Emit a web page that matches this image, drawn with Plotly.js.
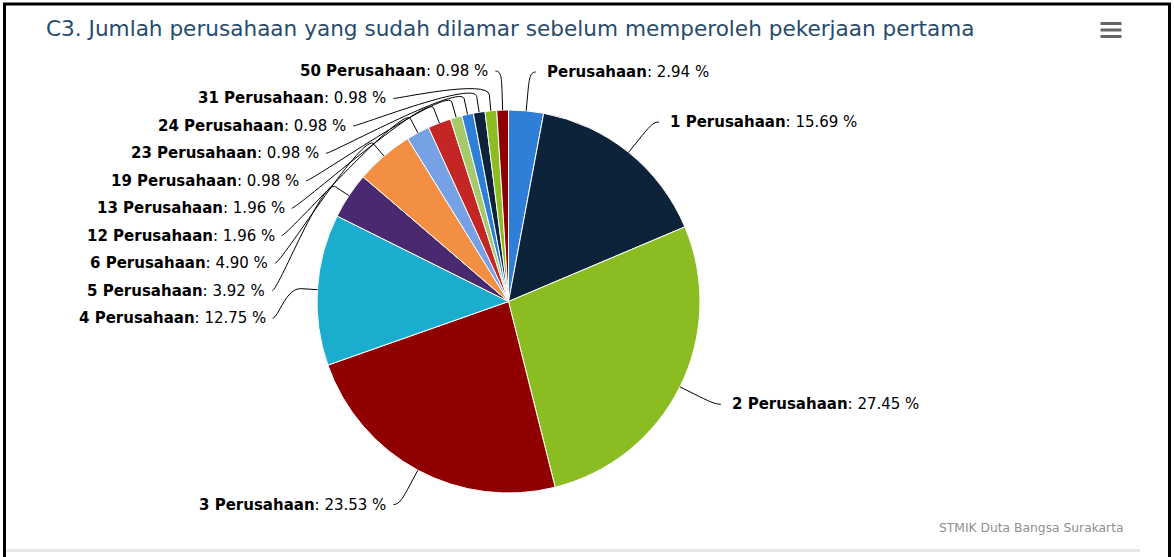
<!DOCTYPE html>
<html><head><meta charset="utf-8">
<script src="https://cdn.plot.ly/plotly-3.0.1.min.js"></script>
<style>html,body{margin:0;padding:0;background:#fff}#chart{width:1174px;height:557px}</style>
</head><body><div id="chart"></div>
<script>
const categories = ["Perusahaan","1 Perusahaan","2 Perusahaan","3 Perusahaan","4 Perusahaan","5 Perusahaan","6 Perusahaan","12 Perusahaan","13 Perusahaan","19 Perusahaan","23 Perusahaan","24 Perusahaan","31 Perusahaan","50 Perusahaan"];
const percents = [2.94,15.69,27.45,23.53,12.75,3.92,4.90,1.96,1.96,0.98,0.98,0.98,0.98,0.98];
const colors = ['#2f7ed8','#0d233a','#8bbc21','#910000','#1aadce','#492970','#f28f43','#77a1e5','#c42525','#a6c96a','#2f7ed8','#0d233a','#8bbc21','#910000'];
const titleText = "C3. Jumlah perusahaan yang sudah dilamar sebelum memperoleh pekerjaan pertama";
const creditText = "STMIK Duta Bangsa Surakarta";

const W = 1174, H = 557;
const CX = 508.5, CY = 301.5, RAD = 191.5, DIST = 39, LH = 27.45, CONN_OFF = 16;
const R = RAD + DIST;
const px = x => x / W, py = y => 1 - y / H;

// slice geometry derived from data (Highcharts-like label layout)
const total = percents.reduce((a, b) => a + b, 0);
let cum = 0;
const pts = percents.map((v, i) => {
  const mid = (cum + v / 2) / total; cum += v;
  const ang = (-90 + 360 * mid) * Math.PI / 180;
  return {
    i, ang, half: (ang < -Math.PI / 2 || ang > Math.PI / 2) ? 1 : 0,
    natY: CY + R * Math.sin(ang),
    bx: CX + (RAD + CONN_OFF) * Math.cos(ang), by: CY + (RAD + CONN_OFF) * Math.sin(ang),
    ex: CX + RAD * Math.cos(ang), ey: CY + RAD * Math.sin(ang)
  };
});
function getX(y, left) {
  let s = (y - CY) / R; s = Math.max(-1, Math.min(1, s));
  return CX + (left ? -1 : 1) * Math.cos(Math.asin(s)) * R;
}
[1, 0].forEach(h => {
  const ph = pts.filter(p => p.half === h).sort((a, b) => h === 1 ? b.ang - a.ang : a.ang - b.ang);
  const slots = [];
  for (let pos = CY - R; pos <= CY + R; pos += LH) slots.push(pos);
  const n = slots.length, len = ph.length, used = [];
  ph.forEach((p, j) => {
    let closest = 1e9, si = 0;
    for (let k = 0; k < n; k++) {
      const d = Math.abs((slots[k] === null ? 0 : slots[k]) - p.natY);
      if (d < closest) { closest = d; si = k; }
    }
    if (si < j && slots[j] !== null) si = j;
    else if (n < len - j + si && slots[j] !== null) { si = n - len + j; while (slots[si] === null) si++; }
    else { while (slots[si] === null) si++; }
    used.push({ i: si, y: slots[si] }); slots[si] = null;
  });
  used.sort((a, b) => a.y - b.y);
  ph.forEach((p, j) => {
    const s = used[j]; let y = s.y;
    if ((p.natY > y && slots[s.i + 1] !== null) || (p.natY < y && slots[s.i - 1] !== null)) y = p.natY;
    p.lx = getX((s.i === 0 || s.i === n - 1) ? p.natY : y, h === 1);
    p.ly = y;
  });
});

const shapes = [];
const annotations = [];
pts.forEach(p => {
  const left = p.half === 1;
  const sx = p.lx + (left ? -6 : 6);
  shapes.push({
    type: 'path', xref: 'paper', yref: 'paper',
    path: `M ${px(sx)} ${py(p.ly)} C ${px(p.lx)} ${py(p.ly)} ${px(2 * p.bx - p.ex)} ${py(2 * p.by - p.ey)} ${px(p.bx)} ${py(p.by)} L ${px(p.ex)} ${py(p.ey)}`,
    line: { color: '#000000', width: 1 }
  });
  annotations.push({
    xref: 'paper', yref: 'paper', showarrow: false,
    x: px(p.lx + (left ? -12 : 16)), y: py(p.ly),
    xanchor: left ? 'right' : 'left', yanchor: 'middle', borderpad: 0,
    text: `<b>${categories[p.i]}</b>: ${percents[p.i].toFixed(2)} %`,
    font: { family: 'DejaVu Sans', size: 15, color: '#000000' }
  });
});
annotations.push({
  xref: 'paper', yref: 'paper', showarrow: false, x: px(1125), y: py(528),
  xanchor: 'right', yanchor: 'middle', borderpad: 0, text: creditText,
  font: { family: 'DejaVu Sans', size: 12.3, color: '#909090' }
});
// frame and menu icon
shapes.push(
  { type: 'line', xref: 'paper', yref: 'paper', x0: px(3), x1: px(1171), y0: py(4), y1: py(4), line: { color: '#000', width: 3 } },
  { type: 'line', xref: 'paper', yref: 'paper', x0: px(4.5), x1: px(4.5), y0: py(3), y1: py(557), line: { color: '#000', width: 3 } },
  { type: 'line', xref: 'paper', yref: 'paper', x0: px(1169.5), x1: px(1169.5), y0: py(3), y1: py(557), line: { color: '#000', width: 3 } },
  { type: 'line', xref: 'paper', yref: 'paper', x0: px(6), x1: px(1140), y0: py(550.5), y1: py(550.5), line: { color: '#e6e6e6', width: 3 } }
);
[23.5, 30, 36.5].forEach(y => shapes.push({
  type: 'line', xref: 'paper', yref: 'paper', x0: px(1100.5), x1: px(1121.5), y0: py(y), y1: py(y),
  line: { color: '#666666', width: 3 }
}));

const data = [{
  type: 'pie', labels: categories, values: percents, sort: false, direction: 'clockwise', rotation: 0,
  textinfo: 'none', hoverinfo: 'label+percent',
  marker: { colors: colors, line: { color: '#ffffff', width: 1 } },
  domain: { x: [px(CX - RAD), px(CX + RAD)], y: [py(CY + RAD), py(CY - RAD)] },
  showlegend: false
}];
const layout = {
  width: W, height: H, margin: { l: 0, r: 0, t: 0, b: 0 },
  paper_bgcolor: '#ffffff', showlegend: false,
  title: { text: titleText, x: px(46), xanchor: 'left', xref: 'paper', y: py(28.5), yref: 'paper', yanchor: 'middle',
    font: { family: 'DejaVu Sans', size: 21.6, color: '#274b6d' } },
  shapes, annotations
};
Plotly.newPlot('chart', data, layout, { displayModeBar: false, responsive: false });
</script></body></html>
